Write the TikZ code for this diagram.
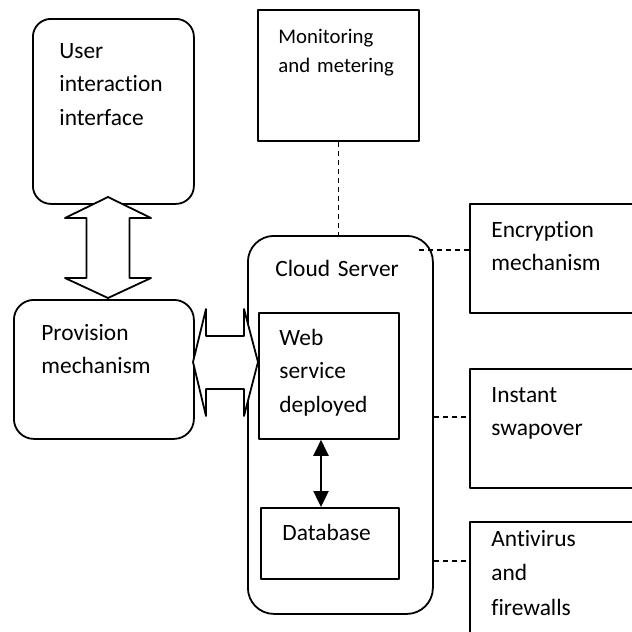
\documentclass[tikz,border=0pt]{standalone}
\usepackage{fontspec}
\setmainfont{Carlito}[Ligatures=NoCommon]
\usetikzlibrary{arrows.meta}

\begin{document}
\begin{tikzpicture}
    [line join=round,x=0.5pt,y=-0.5pt,
     box/.style={draw,line width=0.9pt,anchor=north west,inner sep=0pt},
     rbox/.style={box,rounded corners=#1},
     lbl/.style={anchor=base west,inner sep=0pt,text width=70pt,align=left,
                 font=\fontsize{11.7}{16.75}\selectfont},
     dline/.style={line width=0.7pt,dash pattern=on 2.5pt off 2pt},
     blockarrow/.style={draw,line width=0.9pt,fill=white}]
\useasboundingbox (0,0) rectangle (632,632);
\clip (0,0) rectangle (632,632);
%boxes
 \node[rbox=9pt,minimum width=80.5pt,minimum height=92.5pt] (user) at (32,18) {};
 \node[rbox=10pt,minimum width=90pt,minimum height=69.5pt] (prov) at (13,299) {};
 \node[box,minimum width=80.5pt,minimum height=65.5pt] (mon) at (257,9) {};
 \node[rbox=13pt,minimum width=92.5pt,minimum height=189pt] (cloud) at (247,235) {};
 \node[box,minimum width=70pt,minimum height=63pt] (web) at (258,312) {};
 \node[box,minimum width=69pt,minimum height=35.5pt] (db) at (260,507) {};
 \node[box,minimum width=100pt,minimum height=54.5pt] (enc) at (469,203) {};
 \node[box,minimum width=100pt,minimum height=59.5pt] (swap) at (469,368) {};
 \node[box,minimum width=100pt,minimum height=70pt] (anti) at (469,521) {};
%texts
 \node[lbl] (userlbl) at (59,58) {User\\interaction\\interface};
 \node[lbl,font=\fontsize{10.4}{14.5}\selectfont] (monlbl) at (278,43) {Monitoring\\and metering};
 \node[lbl] (provlbl) at (41,340) {Provision\\mechanism};
 \node[lbl] (cloudlbl) at (275,276) {Cloud Server};
 \node[lbl] (weblbl) at (279,345) {Web\\service\\deployed};
 \node[lbl] (dblbl) at (282,540) {Database};
 \node[lbl] (enclbl) at (491,237) {Encryption\\mechanism};
 \node[lbl] (swaplbl) at (491,402) {Instant\\swapover};
 \node[lbl,font=\fontsize{11.7}{17.25}\selectfont] (antilbl) at (491,546) {Antivirus\\and\\firewalls};
%block arrows
 \coordinate (vtop) at (108,197);
 \coordinate (hleft) at (193,362);
 \draw[blockarrow] (vtop) -- ++(43,21) -- ++(-21.5,0) -- ++(0,60) -- ++(21.5,0) -- ++(-43,20)
   -- ++(-43,-20) -- ++(21.5,0) -- ++(0,-60) -- ++(-21.5,0) -- cycle;
 \draw[blockarrow] (hleft) -- ++(13,-53) -- ++(0,27) -- ++(38,0) -- ++(0,-27) -- ++(14,53)
   -- ++(-14,54) -- ++(0,-27) -- ++(-38,0) -- ++(0,27) -- cycle;
%links
 \draw[line width=1.2pt,{Triangle[width=7.5pt,length=8pt]}-{Triangle[width=7.5pt,length=8pt]}]
   (web.south -| 321,0) -- (db.north -| 321,0);
 \draw[dline] (mon.south) -- (mon.south |- cloud.north);
 \coordinate (encstart) at (419,250);
 \draw[dline] (encstart) -- (enc.west |- encstart);
 \draw[dline] (cloud.east |- 0,417) -- (swap.west |- 0,417);
 \draw[dline] (cloud.east |- 0,561) -- (anti.west |- 0,561);
\end{tikzpicture}
\end{document}
